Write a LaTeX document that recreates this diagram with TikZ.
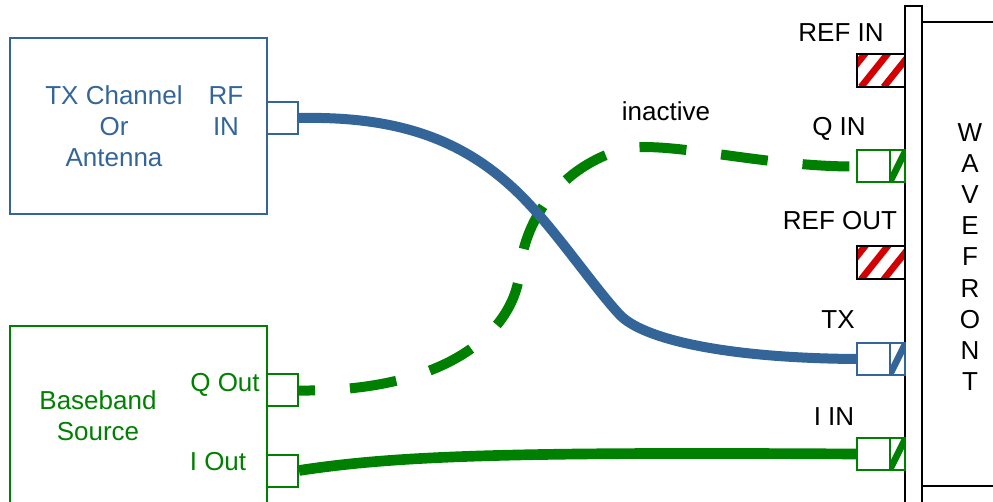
\documentclass[tikz,border=0pt]{standalone}
\usepackage{fontspec}
\setmainfont{Liberation Sans}
\usetikzlibrary{positioning}

\definecolor{txblue}{RGB}{52,101,153}
\definecolor{bbgreen}{RGB}{0,128,0}
\definecolor{hatchred}{RGB}{210,0,0}

\tikzset{
  lbl/.style={font=\fontsize{19.5}{23.3}\selectfont, inner sep=0pt, align=center},
  unitbox/.style={draw=#1, line width=1.5pt, text=#1},
  plug/.style={draw=#1, line width=1.5pt, fill=white, minimum width=23.25pt, minimum height=24pt, inner sep=0pt},
  % reference ports on the WaveFront: fully hatched
  refport/.style={draw=black, line width=1.5pt, fill=white, minimum width=36pt, minimum height=24.75pt, inner sep=0pt,
    path picture={
      \foreach \k in {-2,...,2}
        \draw[hatchred, line width=5pt] ([xshift=\k*17pt+3pt]path picture bounding box.south west) -- ++(24pt,30pt);
    }},
  % signal ports: plain socket with a hatched strip against the panel
  sigport/.style={draw=#1, line width=1.5pt, fill=white, minimum width=36pt, minimum height=24pt, inner sep=0pt,
    path picture={
      \begin{scope}
        \clip ([xshift=-11.25pt]path picture bounding box.south east) rectangle (path picture bounding box.north east);
        \draw[#1, line width=5pt] ([xshift=-12pt,yshift=-1pt]path picture bounding box.south east)
          -- ([xshift=1pt,yshift=1pt]path picture bounding box.north east);
      \end{scope}
      \draw[#1, line width=1.5pt] ([xshift=-11.25pt]path picture bounding box.south east) -- ([xshift=-11.25pt]path picture bounding box.north east);
    }},
  cable/.style={draw=#1, line width=7.5pt}
}

\begin{document}
\begin{tikzpicture}[x=0.75pt, y=-0.75pt]
  \useasboundingbox (0,0) rectangle (993,502);

  % sources on the left
  \node[unitbox=txblue, minimum width=192.75pt, minimum height=132pt] (txch) at (138.5,126) {};
  \node[lbl, text=txblue] (txname) at (114,126) {TX Channel\\Or\\Antenna};
  \node[lbl, text=txblue] (rflbl) at (226,111) {RF\\IN};
  \node[plug=txblue] (rfin) at (282.5,118) {};

  \node[unitbox=bbgreen, minimum width=192.75pt, minimum height=153pt] (bbsrc) at (138.5,428) {};
  \node[lbl, text=bbgreen] (bbname) at (98,416) {Baseband\\Source};
  \node[lbl, text=bbgreen] (qoutlbl) at (225,385) {Q Out};
  \node[lbl, text=bbgreen] (ioutlbl) at (218,462) {I Out};
  \node[plug=bbgreen] (qout) at (282.5,390.5) {};
  \node[plug=bbgreen] (iout) at (282.5,470.5) {};

  % WaveFront panel
  \draw[line width=1.5pt] (922,22) rectangle (1010,486);
  \draw[line width=1.5pt, fill=white] (905,6) rectangle (922,530);
  \node[lbl] (wf) at (970,257) {W\\A\\V\\E\\F\\R\\O\\N\\T};

  \node[refport] (refin) at (881,70.5) {};
  \node[sigport=bbgreen] (qin) at (881,166.5) {};
  \node[refport] (refout) at (881,263) {};
  \node[sigport=txblue] (tx) at (881,359) {};
  \node[sigport=bbgreen] (iin) at (881,454) {};

  \node[lbl] at (841,33) {REF IN};
  \node[lbl] at (839,129) {Q IN};
  \node[lbl] at (840,221) {REF OUT};
  \node[lbl] at (838,320) {TX};
  \node[lbl] at (834,417) {I IN};

  % cables
  \draw[cable=bbgreen, dash pattern=on 35.25pt off 26.25pt, dash phase=23.25pt]
    (qout.east) .. controls (450,392) and (515,330) .. (520,270)
    .. controls (524,225) and (555,170) .. (620,150)
    .. controls (660,138) and (760,167) .. (qin.west);
  \node[lbl] (inact) at (666,111) {inactive};

  \draw[cable=txblue]
    (rfin.east) .. controls (400,116) and (470,140) .. (530,205)
    .. controls (560,237) and (598,292) .. (620,315)
    .. controls (642,338) and (720,358) .. (tx.west);

  \draw[cable=bbgreen, line width=8pt]
    (iout.east) .. controls (400,455) and (520,452) .. (iin.west);
\end{tikzpicture}
\end{document}
